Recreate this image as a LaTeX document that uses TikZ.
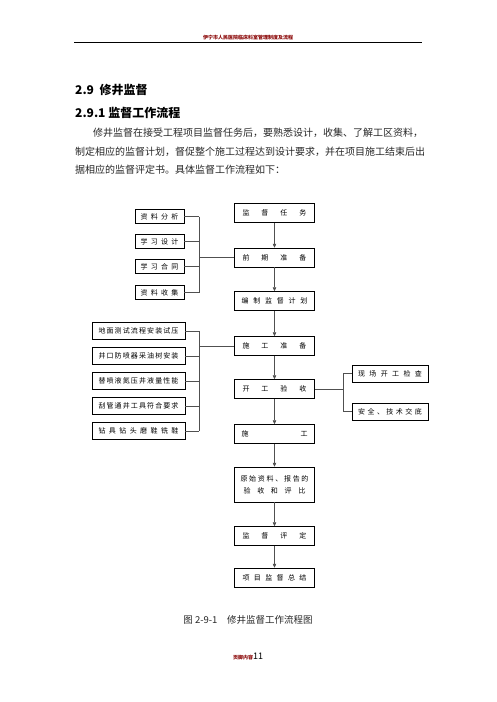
\documentclass[tikz,border=0pt]{standalone}
\usepackage{fontspec}
\setmainfont{Noto Sans CJK SC}
\usetikzlibrary{arrows.meta}
\definecolor{hdr}{RGB}{140,10,10}
\definecolor{ln}{RGB}{80,80,80}
\definecolor{txt}{RGB}{40,40,40}
\newcommand\sbx[2]{\hbox to #1pt{#2}}
\begin{document}
\begin{tikzpicture}[x=1pt,y=-1pt,
  boxfont/.style={font=\fontsize{7}{8}\selectfont},
  mbox/.style={draw, line width=0.5pt, minimum width=80pt, minimum height=19pt, inner sep=0pt, boxfont},
  ltbox/.style={draw, line width=0.5pt, minimum width=49pt, minimum height=14pt, inner sep=0pt, boxfont},
  lbbox/.style={draw, line width=0.5pt, minimum width=93pt, minimum height=17pt, inner sep=0pt, boxfont},
  rbox/.style={draw, line width=0.5pt, minimum width=76pt, minimum height=17pt, inner sep=0pt, boxfont},
  conn/.style={draw=ln, line width=0.6pt},
  arr/.style={conn, -{Triangle[length=4pt,width=3.5pt]}},
  plain/.style={inner sep=0pt, anchor=west}]
\useasboundingbox (0,0) rectangle (496,702);
\fill[white] (0,0) rectangle (496,702);

% header / footer
\node[inner sep=0pt, text=hdr, font=\bfseries\fontsize{5}{6}\selectfont] (hd) at (248,37.5) {伊宁市人民医院临床科室管理制度及流程};
\draw[line width=0.9pt] (74,42) -- (422,42);
\node[inner sep=0pt] (ft) at (248,657) {{\color{hdr}\bfseries\fontsize{5}{6}\selectfont 页脚内容}{\fontsize{9}{10}\selectfont 11}};

% headings and paragraph
\node[plain, font=\bfseries\fontsize{12}{14}\selectfont] (h1) at (75,90) {2.9\ \ 修井监督};
\node[plain, font=\bfseries\fontsize{12}{14}\selectfont] (h2) at (75,113) {2.9.1 监督工作流程};
\node[plain, text=txt, font=\fontsize{10}{12}\selectfont] (p1) at (93,133) {修井监督在接受工程项目监督任务后，要熟悉设计，收集、了解工区资料，};
\node[plain, text=txt, font=\fontsize{10}{12}\selectfont] (p2) at (75,152) {制定相应的监督计划，督促整个施工过程达到设计要求，并在项目施工结束后出};
\node[plain, text=txt, font=\fontsize{10}{12}\selectfont] (p3) at (75,170) {据相应的监督评定书。具体监督工作流程如下：};

% main boxes
\node[mbox] (m1) at (274.5,213) {\sbx{64}{监\hfill 督\hfill 任\hfill 务}};
\node[mbox] (m2) at (274.5,257.5) {\sbx{64}{前\hfill 期\hfill 准\hfill 备}};
\node[mbox] (m3) at (274.5,301) {\sbx{66}{编\hfill 制\hfill 监\hfill 督\hfill 计\hfill 划}};
\node[mbox] (m4) at (274.5,346) {\sbx{64}{施\hfill 工\hfill 准\hfill 备}};
\node[mbox] (m5) at (274.5,389) {\sbx{64}{开\hfill 工\hfill 验\hfill 收}};
\node[mbox] (m6) at (274.5,434) {\sbx{66}{施\hfill 工}};
\node[mbox, minimum height=35pt, align=center] (m7) at (274.5,484.5) {\sbx{68}{原\hfill 始\hfill 资\hfill 料\hfill 、\hfill 报\hfill 告\hfill 的}\\[4pt]\sbx{62}{验\hfill 收\hfill 和\hfill 评\hfill 比}};
\node[mbox] (m8) at (274.5,536) {\sbx{64}{监\hfill 督\hfill 评\hfill 定}};
\node[mbox] (m9) at (274.5,577.5) {\sbx{64}{项\hfill 目\hfill 监\hfill 督\hfill 总\hfill 结}};

\foreach \a/\b in {m1/m2,m2/m3,m3/m4,m4/m5,m5/m6,m6/m7,m7/m8,m8/m9}
  \draw[arr] (\a.south) -- (\b.north);

% left top group
\node[ltbox] (lt1) at (159.5,216.5) {\sbx{38}{资\hfill 料\hfill 分\hfill 析}};
\node[ltbox] (lt2) at (159.5,241.5) {\sbx{38}{学\hfill 习\hfill 设\hfill 计}};
\node[ltbox] (lt3) at (159.5,266.5) {\sbx{38}{学\hfill 习\hfill 合\hfill 同}};
\node[ltbox] (lt4) at (159.5,292.5) {\sbx{38}{资\hfill 料\hfill 收\hfill 集}};
\coordinate (bx1) at (199,0);
\foreach \n in {lt1,lt2,lt3,lt4}
  \draw[conn] (\n.east) -- (\n.east -| bx1);
\draw[conn] (lt1.east -| bx1) -- (lt4.east -| bx1);
\draw[conn] (m2.west -| bx1) -- (m2.west);

% left bottom group
\node[lbbox] (lb1) at (138.5,331) {\sbx{80}{地\hfill 面\hfill 测\hfill 试\hfill 流\hfill 程\hfill 安\hfill 装\hfill 试\hfill 压}};
\node[lbbox] (lb2) at (138.5,356) {\sbx{80}{井\hfill 口\hfill 防\hfill 喷\hfill 器\hfill 采\hfill 油\hfill 树\hfill 安\hfill 装}};
\node[lbbox] (lb3) at (138.5,381) {\sbx{80}{替\hfill 喷\hfill 液\hfill 氮\hfill 压\hfill 井\hfill 液\hfill 量\hfill 性\hfill 能}};
\node[lbbox] (lb4) at (138.5,406) {\sbx{80}{刮\hfill 管\hfill 通\hfill 井\hfill 工\hfill 具\hfill 符\hfill 合\hfill 要\hfill 求}};
\node[lbbox] (lb5) at (138.5,431) {\sbx{80}{钻\hfill 具\hfill 钻\hfill 头\hfill 磨\hfill 鞋\hfill 铣\hfill 鞋}};
\coordinate (bx2) at (199,0);
\foreach \n in {lb1,lb2,lb3,lb4,lb5}
  \draw[conn] (\n.east) -- (\n.east -| bx2);
\draw[conn] (lb1.east -| bx2) -- (lb5.east -| bx2);
\draw[conn] (m4.west -| bx2) -- (m4.west);

% right group
\node[rbox] (rb1) at (390,373.5) {\sbx{64}{现\hfill 场\hfill 开\hfill 工\hfill 检\hfill 查}};
\node[rbox] (rb2) at (390,411.5) {\sbx{64}{安\hfill 全\hfill 、\hfill 技\hfill 术\hfill 交\hfill 底}};
\coordinate (bx3) at (343,0);
\draw[conn] (m5.east) -- (m5.east -| bx3);
\draw[conn] (rb1.west -| bx3) -- (rb2.west -| bx3);
\foreach \n in {rb1,rb2}
  \draw[conn] (\n.west -| bx3) -- (\n.west);

% caption
\node[inner sep=0pt, text=txt, font=\fontsize{9.5}{11}\selectfont] (cap) at (248,620) {图 2-9-1\quad 修井监督工作流程图};
\end{tikzpicture}
\end{document}
